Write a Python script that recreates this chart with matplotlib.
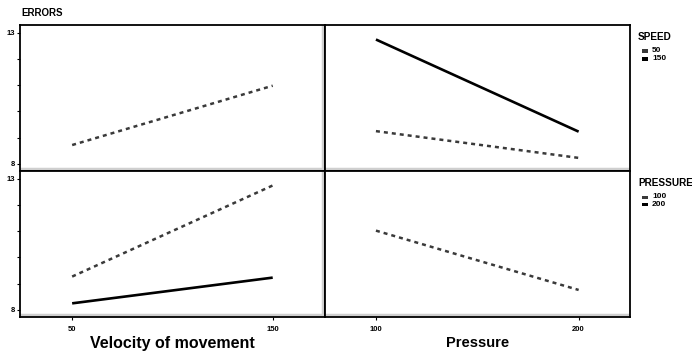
import matplotlib.pyplot as plt
from matplotlib.lines import Line2D
from matplotlib.patches import Rectangle

# data
velocity = [50, 150]
pressure = [100, 200]

# top-left: errors vs velocity (speed 50 only visible)
tl_speed50 = [8.72, 10.98]
# top-right: errors vs pressure, by speed
tr_speed50 = [9.25, 8.23]
tr_speed150 = [12.74, 9.23]
# bottom-left: errors vs velocity, by pressure
bl_press100 = [9.27, 12.74]
bl_press200 = [8.25, 9.23]
# bottom-right: errors vs pressure (pressure 100 only visible)
br_press100 = [11.02, 8.76]

y_ticks = [8, 9, 10, 11, 12, 13]
y_ticklabels = ["8", "", "", "", "", "13"]

DASH_COLOR = "#3a3a3a"
SOLID_COLOR = "#000000"
NARROW = ["Liberation Sans", "DejaVu Sans"]

plt.rcParams["font.family"] = ["Liberation Sans", "DejaVu Sans"]

fig, axes = plt.subplots(2, 2, figsize=(6.92, 3.53), dpi=100)
fig.subplots_adjust(left=0.0289, right=0.910, top=0.929, bottom=0.102,
                    hspace=0, wspace=0)

dash = dict(color=DASH_COLOR, linewidth=1.8, linestyle=(0, (1.6, 1.6)),
            dash_capstyle="butt")
solid = dict(color=SOLID_COLOR, linewidth=1.9, solid_capstyle="butt")

axes[0, 0].plot(velocity, tl_speed50, **dash)
axes[0, 1].plot(pressure, tr_speed50, **dash)
axes[0, 1].plot(pressure, tr_speed150, **solid)
axes[1, 0].plot(velocity, bl_press100, **dash)
axes[1, 0].plot(velocity, bl_press200, **solid)
axes[1, 1].plot(pressure, br_press100, **dash)

for r in range(2):
    for c in range(2):
        ax = axes[r, c]
        ax.set_ylim(7.73, 13.29)
        if c == 0:
            ax.set_xlim(24, 176)
        else:
            ax.set_xlim(74.8, 225.2)
        for s in ax.spines.values():
            s.set_linewidth(1.3)
            s.set_color("black")
        # light grey shadow inside the bottom edge
        ax.add_line(Line2D([0, 1], [0.012, 0.012], transform=ax.transAxes,
                           color="#cfcfcf", linewidth=2.5, zorder=1))
        if c == 0:
            ax.add_line(Line2D([0.995, 0.995], [0, 1], transform=ax.transAxes,
                               color="#cfcfcf", linewidth=2.5, zorder=1))
            ax.set_yticks(y_ticks)
            ax.set_yticklabels(y_ticklabels, fontfamily=NARROW,
                               fontweight="bold", fontsize=5.5)
            ax.tick_params(axis="y", length=2.5, width=0.8, pad=1)
        else:
            ax.set_yticks([])
        if r == 1:
            ticks = velocity if c == 0 else pressure
            ax.set_xticks(ticks)
            ax.set_xticklabels([str(t) for t in ticks], fontfamily=NARROW,
                               fontweight="bold", fontsize=5.5)
            ax.tick_params(axis="x", length=2.5, width=0.8, pad=4)
        else:
            ax.set_xticks([])

axes[1, 0].set_xlabel("Velocity of movement", fontsize=11.5,
                      fontweight="bold", labelpad=2)
axes[1, 1].set_xlabel("Pressure", fontsize=10.5, fontweight="bold", labelpad=2)

fig.text(21 / 692, 1 - 13 / 353, "ERRORS", fontfamily=NARROW,
         fontweight="bold", fontsize=7, va="center", ha="left")


def add_legend(title, labels, y_title):
    fig.text(638 / 692, 1 - y_title / 353, title, fontfamily=NARROW,
             fontweight="bold", fontsize=7.2, va="center", ha="left")
    colors = [DASH_COLOR, SOLID_COLOR]
    for i, (lab, col) in enumerate(zip(labels, colors)):
        yc = y_title + 14 + i * 8
        fig.add_artist(Rectangle((642 / 692, 1 - (yc + 1.5) / 353),
                                 6 / 692, 3 / 353, transform=fig.transFigure,
                                 facecolor=col, edgecolor="none"))
        fig.text(652 / 692, 1 - yc / 353, lab, fontfamily=NARROW,
                 fontweight="bold", fontsize=6, va="center", ha="left")


add_legend("SPEED", ["50", "150"], 37)
add_legend("PRESSURE", ["100", "200"], 183)

fig.savefig("out.png", dpi=100)
plt.close(fig)
